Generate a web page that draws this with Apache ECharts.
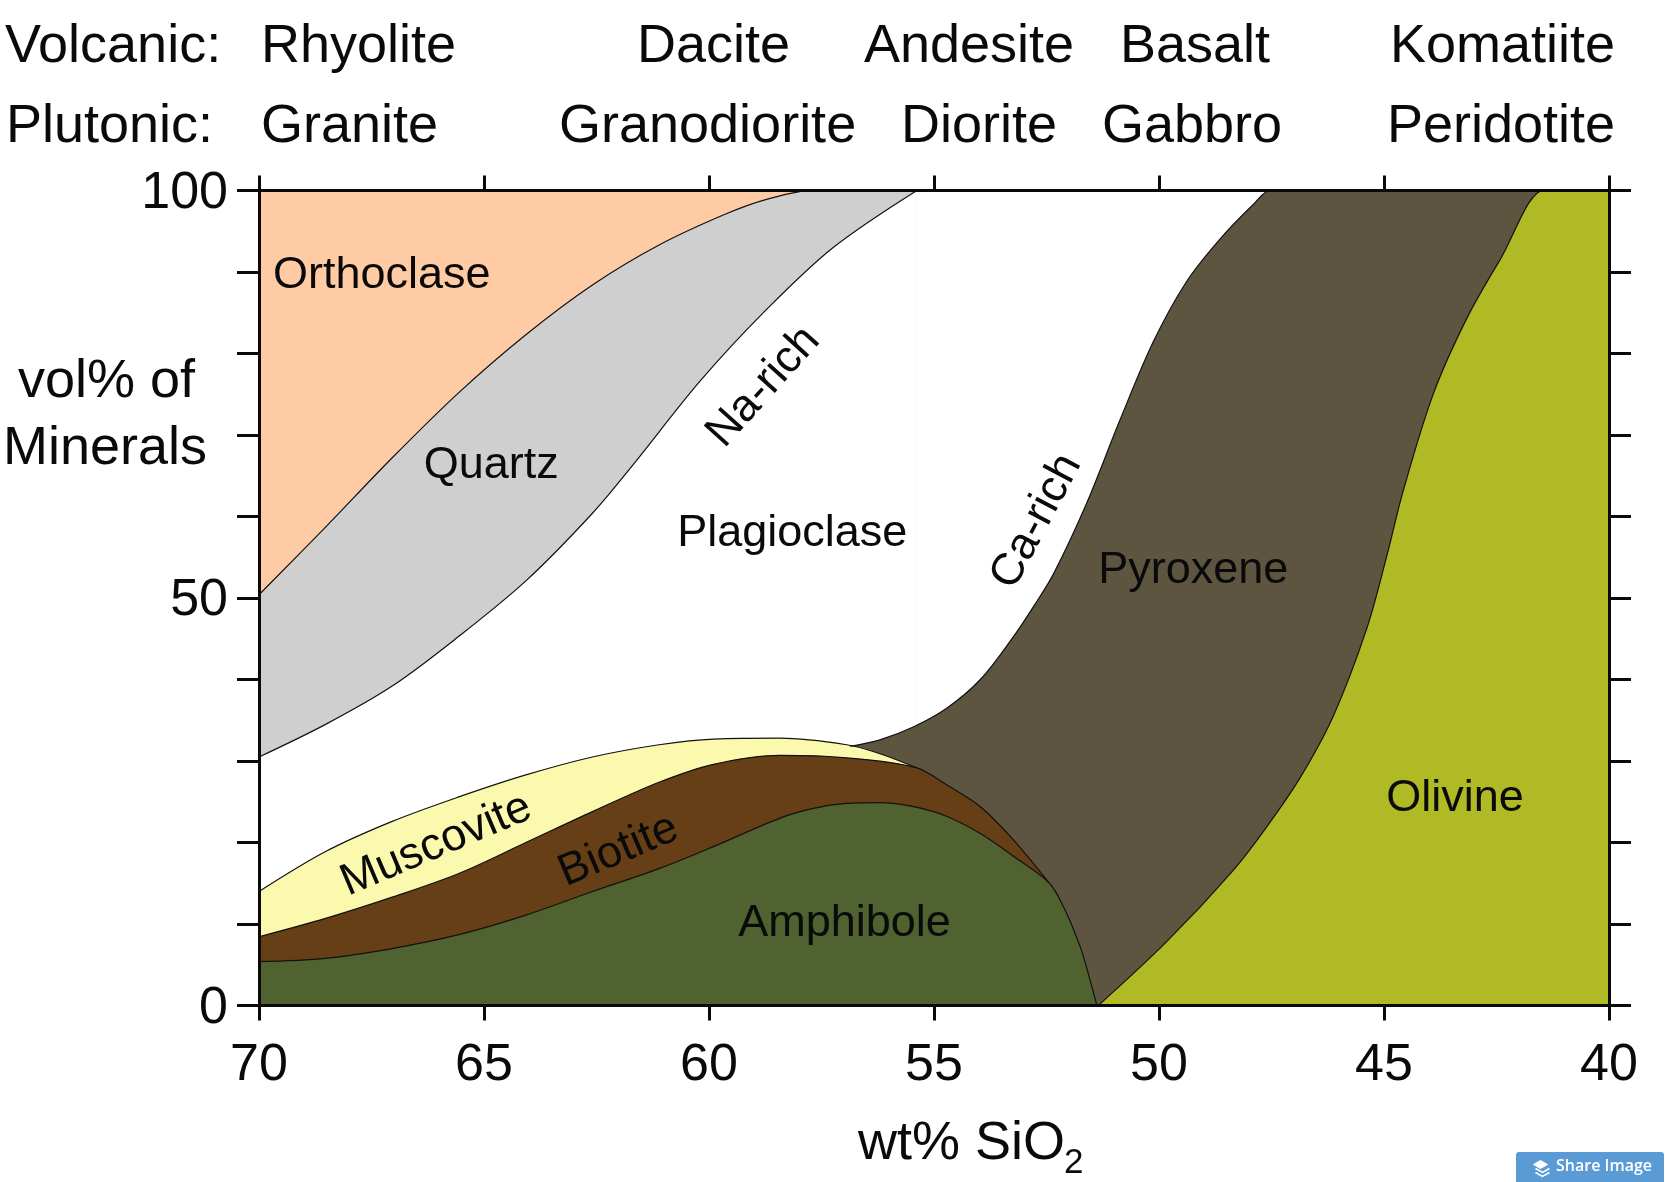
<!DOCTYPE html>
<html>
<head>
<meta charset="utf-8">
<style>
    html, body { margin: 0; padding: 0; background: #fff; }
    #chart { width: 1672px; height: 1182px; }
</style>
<script src="https://cdn.jsdelivr.net/npm/echarts@6/dist/echarts.min.js"></script>
</head>
<body>
<div id="chart"></div>
<script>
// boundaries, [wt% SiO2, vol%]
var orthoclaseTop = [[70, 100], [57.68, 100]];
var quartzTop = [[70, 50.4], [68.52, 58.7], [67.04, 67.2], [65.56, 75.2], [64.07, 82.3], [62.59, 88.4], [61.11, 93.3],
    [59.63, 97.1], [58.72, 98.9], [57.68, 100], [57.5, 100], [55.38, 100]];
var plagioclaseTop = [[70, 30.5], [68.52, 34.5], [67.04, 39.2], [65.56, 45.3], [64.07, 52.1], [62.59, 60.4], [61.68, 66.4],
    [60.20, 76.6], [58.72, 85.4], [57.24, 93.0], [55.38, 100]];
var pyroxeneTop = [[56.86, 31.8], [56.20, 32.6], [55.45, 34.2], [54.71, 36.5], [53.97, 40.0], [53.23, 45.3], [52.76, 49.2],
    [52.35, 52.9], [51.61, 61.6], [50.87, 71.8], [50.13, 81.4], [49.39, 88.8], [48.65, 94.0], [47.90, 98.3], [47.53, 100],
    [47.4, 100], [40, 100]];
var olivineTop = [[51.35, 0], [49.83, 7.84], [48.35, 16.6], [47.61, 21.9], [46.87, 27.9], [46.12, 35.6], [45.38, 46.3], [44.94, 55.1],
    [44.57, 63.2], [43.90, 75.1], [43.16, 84.3], [42.42, 91.5], [41.45, 100], [41.3, 100], [40, 100]];
var muscoviteTop = [[70, 14.0], [68.52, 18.9], [67.04, 22.6], [65.56, 25.6], [64.07, 28.3], [62.59, 30.5], [61.11, 32.0],
    [59.90, 32.7], [58.42, 32.8], [56.94, 32.0], [56.20, 30.9], [55.40, 29.2]];
var biotiteTop = [[70, 8.45], [68.52, 10.7], [67.04, 13.3], [65.56, 16.2], [64.07, 20.0], [62.59, 23.8], [61.11, 27.4],
    [59.90, 29.6], [58.42, 30.7], [56.94, 30.4], [55.40, 29.2], [54.71, 27.06], [53.97, 24.4], [53.23, 20.3], [52.45, 15.1]];
var amphiboleTop = [[70, 5.4], [68.52, 5.8], [67.04, 7.0], [65.56, 8.7], [64.07, 11.1], [62.59, 14.0], [61.11, 16.8],
    [59.90, 19.5], [58.42, 23.0], [57.68, 24.2], [56.94, 24.8], [56.20, 24.9], [55.45, 24.4], [54.71, 23.2], [53.97, 21.1],
    [53.23, 18.3], [52.45, 15.1], [52.12, 12.1], [51.75, 7.2], [51.53, 3.1], [51.38, 0]];

var labelNames = ['Orthoclase', 'Quartz', 'Plagioclase', 'Na-rich', 'Ca-rich', 'Pyroxene', 'Olivine', 'Amphibole', 'Muscovite', 'Biotite'];
var labelX = [67.27, 64.84, 58.15, 58.79, 52.72, 49.24, 43.42, 56.99, 66.06, 62.01];
var labelY = [89.55, 66.25, 57.95, 75.9, 59.4, 53.35, 25.45, 10.0, 19.7, 19.0];
var labelAngle = [0, 0, 0, 48, 62, 0, 0, 0, 23, 23];

var yTickLabels = [0, 50, 100];
var fontName = '"Liberation Sans", Arial, sans-serif';

function areaSeries(name, points, color) {
    return {
        name: name,
        type: 'line',
        data: points,
        smooth: 0.33,
        showSymbol: false,
        silent: true,
        lineStyle: {color: '#111', width: 1.2},
        areaStyle: {color: color, opacity: 1, origin: 'start'}
    };
}

function axisX(position, showLabel) {
    return {
        type: 'value',
        position: position,
        inverse: true,
        min: 40,
        max: 70,
        interval: 5,
        z: 10,
        splitLine: {show: false},
        axisLine: {show: true, onZero: false, lineStyle: {color: '#0a0a0a', width: 3}},
        axisTick: {show: true, length: 15, lineStyle: {color: '#0a0a0a', width: 3}},
        axisLabel: {show: showLabel, margin: 34, fontSize: 52, color: '#0a0a0a', fontFamily: fontName}
    };
}

function axisY(position, showLabel) {
    return {
        type: 'value',
        position: position,
        min: 0,
        max: 100,
        interval: 10,
        z: 10,
        splitLine: {show: false},
        axisLine: {show: true, onZero: false, lineStyle: {color: '#0a0a0a', width: 3}},
        axisTick: {show: true, length: 22, lineStyle: {color: '#0a0a0a', width: 3}},
        axisLabel: {
            show: showLabel,
            margin: 31,
            fontSize: 52,
            color: '#0a0a0a',
            fontFamily: fontName,
            verticalAlign: 'top',
            lineHeight: 6,
            formatter: function (v) {
                return yTickLabels.indexOf(v) >= 0 ? String(v) : '';
            }
        }
    };
}

function headerText(str, left, centerY, size) {
    return {
        type: 'text',
        left: left,
        top: centerY - size * 0.58,
        z: 20,
        style: {text: str, fontSize: size, fontFamily: fontName, fill: '#0a0a0a', lineHeight: size * 1.16}
    };
}

var labelData = labelNames.map(function (name, i) {
    return {name: name, value: [labelX[i], labelY[i]], label: {rotate: labelAngle[i]}};
});

var option = {
    animation: false,
    backgroundColor: '#fff',
    grid: {left: 259, top: 190.4, width: 1350, height: 815.2, containLabel: false},
    xAxis: [axisX('bottom', true), axisX('top', false)],
    yAxis: [axisY('left', true), axisY('right', false)],
    series: [
        areaSeries('Orthoclase', orthoclaseTop, '#FFCBA4'),
        areaSeries('Quartz', quartzTop, '#CFCFCF'),
        areaSeries('Plagioclase', plagioclaseTop, '#FFFFFF'),
        areaSeries('Pyroxene', pyroxeneTop, '#5E5540'),
        areaSeries('Olivine', olivineTop, '#AFBA24'),
        areaSeries('Muscovite', muscoviteTop, '#FBF9AE'),
        areaSeries('Biotite', biotiteTop, '#673F16'),
        areaSeries('Amphibole', amphiboleTop, '#4F622F'),
        {
            type: 'scatter',
            data: labelData,
            symbolSize: 0,
            silent: true,
            z: 6,
            itemStyle: {opacity: 1},
            label: {
                show: true,
                position: 'inside',
                formatter: '{b}',
                fontSize: 45,
                color: '#0a0a0a',
                fontFamily: fontName
            }
        }
    ],
    graphic: [
        headerText('Volcanic:', 5, 47, 54),
        headerText('Plutonic:', 6, 127, 54),
        headerText('Rhyolite', 261, 47, 54),
        headerText('Granite', 261, 127, 54),
        headerText('Dacite', 637, 47, 54),
        headerText('Granodiorite', 559, 127, 54),
        headerText('Andesite', 864, 47, 54),
        headerText('Diorite', 901, 127, 54),
        headerText('Basalt', 1120, 47, 54),
        headerText('Gabbro', 1102, 127, 54),
        headerText('Komatiite', 1390, 47, 54),
        headerText('Peridotite', 1387, 127, 54),
        headerText('vol% of', 18, 382, 54),
        headerText('Minerals', 3, 449, 54),
        headerText('wt% SiO', 858, 1144, 54),
        headerText('2', 1064, 1163, 35),
        // "Share Image" button that sits in the corner of the screenshot
        {type: 'rect', left: 1516, top: 1152, shape: {width: 148, height: 30, r: [3, 3, 0, 0]}, style: {fill: '#5B9BD5'}, z: 20},
        {type: 'polyline', left: 1533, top: 1160, shape: {points: [[0, 4], [7, 0], [14, 4], [7, 8], [0, 4]]}, style: {fill: '#fff', stroke: '#fff'}, z: 21},
        {type: 'polyline', left: 1533, top: 1166, shape: {points: [[0, 3], [7, 7], [14, 3]]}, style: {fill: 'none', stroke: '#fff', lineWidth: 1.5}, z: 21},
        {type: 'polyline', left: 1533, top: 1170, shape: {points: [[0, 3], [7, 7], [14, 3]]}, style: {fill: 'none', stroke: '#fff', lineWidth: 1.5}, z: 21},
        {type: 'text', left: 1556, top: 1158, z: 21, style: {text: 'Share Image', fontSize: 16, fontWeight: 600, fontFamily: '"Open Sans", sans-serif', fill: '#fff'}}
    ]
};

var chart = echarts.init(document.getElementById('chart'));
chart.setOption(option);
</script>
</body>
</html>
